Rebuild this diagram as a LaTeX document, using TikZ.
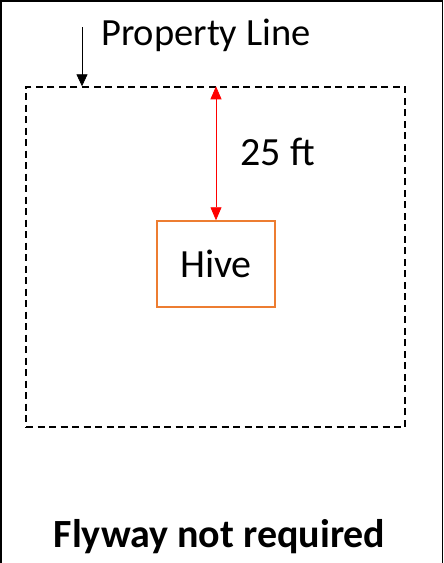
\documentclass[tikz,border=0pt]{standalone}
\usepackage{fontspec}
\setmainfont{Carlito}
\usepackage{tikz}
\usetikzlibrary{arrows.meta}
\usetikzlibrary{positioning}
\definecolor{hiveorange}{HTML}{ED7D31}
\tikzset{lotline/.style={draw=black, dashed, dash pattern=on 7pt off 4.5pt, line width=1.4pt}}
\tikzset{hivebox/.style={draw=hiveorange, line width=1.5pt, minimum width=118pt, minimum height=86pt, inner sep=0pt}}
\tikzset{label text/.style={font=\fontsize{40}{44}\selectfont, inner sep=0pt}}

\begin{document}
\begin{tikzpicture}[x=1pt, y=-1pt]
\useasboundingbox (0,0) rectangle (444,563);
\draw[line width=1.8pt] (1,563) -- (1,1) -- (442.5,1) -- (442.5,563);
\node [lotline, minimum width=379pt, minimum height=340pt, inner sep=0pt] (lot) at (215.5,257) {};
\node [hivebox, label text] (hive) at (216,264) {Hive};
\node [label text, font=\fontsize{38.5}{44}\selectfont, anchor=base west] (prop) at (101,45) {Property Line};
\node [label text, anchor=base west] (dist) at (240.5,165) {25 ft};
\node [label text, font=\fontsize{40}{44}\selectfont\bfseries, anchor=base] (fly) at (219.5,547) {Flyway not required};
\coordinate (pl) at (82,27);
\draw[line width=0.8pt, -{Triangle[width=11pt,length=12pt]}] (pl) -- (pl |- lot.north);
\draw[red, line width=0.8pt, {Triangle[width=11pt,length=13pt]}-{Triangle[width=11pt,length=13pt]}] (hive.north |- lot.north) -- (hive.north);
\end{tikzpicture}
\end{document}
